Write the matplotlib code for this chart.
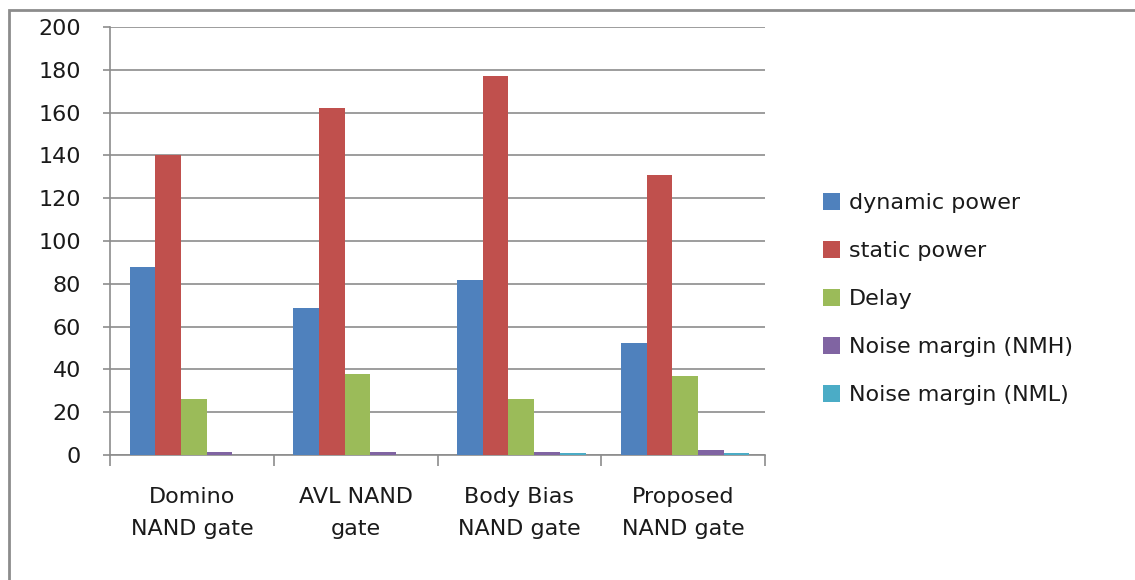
import matplotlib.pyplot as plt
import numpy as np

categories = ['Domino\nNAND gate', 'AVL NAND\ngate', 'Body Bias\nNAND gate', 'Proposed\nNAND gate']
series = ['dynamic power', 'static power', 'Delay', 'Noise margin (NMH)', 'Noise margin (NML)']
dynamic_power = [88, 68.5, 82, 52.5]
static_power = [140, 162, 177, 131]
delay = [26, 38, 26, 37]
nmh = [1.5, 1.5, 1.5, 2.2]
nml = [0, 0, 0.9, 0.8]
colors = ['#4f81bd', '#c0504d', '#9bbb59', '#8064a2', '#4bacc6']

plt.rcParams['font.family'] = ['DejaVu Sans']

fig = plt.figure(figsize=(11.35, 5.8), dpi=100)
ax = fig.add_axes([110 / 1135, 125 / 580, 655 / 1135, 428 / 580])

# outer chart frame (only top and left visible in the original)
fig.add_artist(plt.Rectangle((9 / 1135, -0.1), 1.2, 0.1 + 570 / 580, transform=fig.transFigure,
                             fill=False, edgecolor='#8c8c8c', linewidth=2))

x = np.arange(len(categories))
w = 0.157
values = [dynamic_power, static_power, delay, nmh, nml]
for i, (name, vals) in enumerate(zip(series, values)):
    ax.bar(x + (i - 2) * w + 0.012, vals, width=w, color=colors[i], label=name, zorder=3)

ax.set_xlim(-0.5, 3.5)
ax.set_ylim(0, 200)
ax.set_yticks(range(0, 201, 20))
ax.yaxis.grid(True, color='#8c8c8c', linewidth=1.2, zorder=0)
for s in ['top', 'right']:
    ax.spines[s].set_visible(False)
ax.spines['left'].set_color('#8c8c8c')
ax.spines['bottom'].set_color('#8c8c8c')
ax.spines['left'].set_linewidth(1.2)
ax.spines['bottom'].set_linewidth(1.2)

ax.set_xticks(np.arange(-0.5, 4, 1))
ax.set_xticklabels([])
ax.set_xticks(x, minor=True)
ax.set_xticklabels(categories, minor=True, fontsize=16, linespacing=1.75, color='#1a1a1a')
ax.tick_params(axis='x', which='major', length=8, color='#8c8c8c', width=1.2)
ax.tick_params(axis='x', which='minor', length=0, pad=23)
ax.tick_params(axis='y', length=5, color='#8c8c8c', width=1.2, labelsize=16, pad=16,
               labelcolor='#1a1a1a')

leg = ax.legend(loc='center left', bbox_to_anchor=(1.088, 0.365), frameon=False, fontsize=16,
                handlelength=0.8, handleheight=0.8, handletextpad=0.4, labelspacing=1.25,
                borderpad=0, borderaxespad=0, labelcolor='#1a1a1a')

fig.savefig('out.png', dpi=100)
